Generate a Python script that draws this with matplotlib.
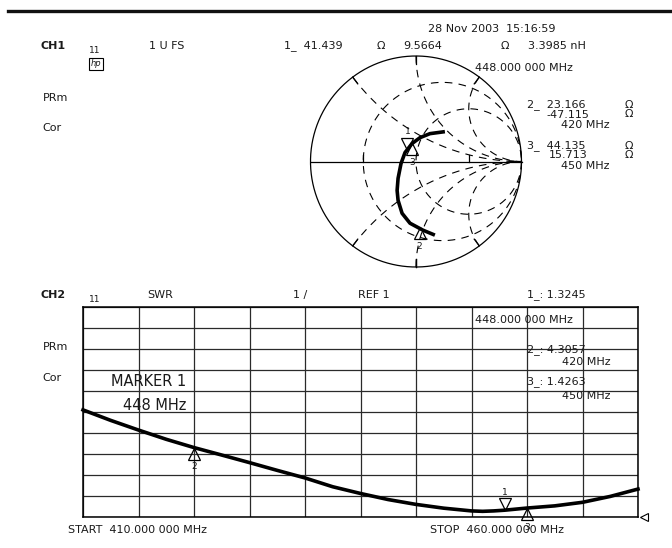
import numpy as np
import matplotlib.pyplot as plt
from matplotlib import transforms as mtransforms

plt.rcParams['lines.scale_dashes'] = False

# SWR sweep, 410 - 460 MHz
freq_mhz = [410, 412.5, 415, 417.5, 420, 422.5, 425, 427.5, 430, 432.5, 435, 437.5,
            440, 442.5, 445, 446, 447, 448, 450, 452.5, 455, 457.5, 460]
swr = [6.10, 5.60, 5.14, 4.70, 4.3057, 3.95, 3.59, 3.22, 2.86, 2.44, 2.12, 1.83,
       1.60, 1.42, 1.29, 1.27, 1.29, 1.3245, 1.4263, 1.53, 1.70, 1.98, 2.33]

# S11 trace on the Smith chart (reflection coefficient), 410 -> 460 MHz
gamma_re = [0.179, 0.066, -0.057, -0.132, -0.170, -0.179, -0.170, -0.142, -0.104,
            -0.038, 0.038, 0.132, 0.274]
gamma_im = [-0.698, -0.651, -0.585, -0.491, -0.368, -0.274, -0.160, -0.019, 0.085,
            0.170, 0.226, 0.264, 0.283]

# markers: number, frequency, R, X (ohm), SWR
mk_num = ['1', '2', '3']
mk_freq = [448, 420, 450]
mk_r = [41.439, 23.166, 44.135]
mk_x = [9.5664, -47.115, 15.713]
mk_swr = [1.3245, 4.3057, 1.4263]
mk_up = [False, True, True]   # triangle below the trace (pointing up)
Z0 = 50.0

W, H = 672, 548
fig = plt.figure(figsize=(W / 100, H / 100), dpi=100)


def put(x, y, s, size=8, ha='center', **kw):
    fig.text(x / W, 1 - y / H, s, fontsize=size, ha=ha, va='center', color='#1a1a1a', **kw)


def marker(ax, x, y, up, label):
    dy = -6 if up else 6
    tr = mtransforms.offset_copy(ax.transData, fig=fig, x=0, y=dy, units='dots')
    ax.plot([x], [y], marker='^' if up else 'v', ms=8.6, mfc='none', mec='black',
            mew=0.9, transform=tr, clip_on=False, zorder=6)
    ly = -19 if up else 18
    tr = mtransforms.offset_copy(ax.transData, fig=fig, x=0, y=ly, units='dots')
    ax.text(x, y, label, transform=tr, ha='center', va='center', fontsize=6.5,
            color='#1a1a1a', zorder=6)


fig.add_artist(plt.Line2D([8 / W, 1], [1 - 11 / H] * 2, color='#111', lw=2.4))

# ---- channel 1: Smith chart ----
cx, cy, R = 416, 161.5, 105.5
span = 1.1
axs = fig.add_axes([(cx - span * R) / W, 1 - (cy + span * R) / H, 2 * span * R / W, 2 * span * R / H])
axs.set_xlim(-span, span)
axs.set_ylim(-span, span)
axs.axis('off')

t = np.linspace(0, 2 * np.pi, 400)
axs.plot(np.cos(t), np.sin(t), color='black', lw=0.9)
axs.plot([-1, 1], [0, 0], color='black', lw=0.9)

dash = (0, (5.5, 4.5))
s = np.linspace(-np.pi / 2 + 1e-3, np.pi / 2 - 1e-3, 600)
for r in [1 / 3, 1]:
    z = r + 1j * np.tan(s)
    g = (z - 1) / (z + 1)
    axs.plot(g.real, g.imag, color='black', lw=0.8, ls=dash)
s = np.linspace(0, np.pi / 2 - 1e-3, 400)
for x in [0.5, 1, 2, -0.5, -1, -2]:
    z = np.tan(s) + 1j * x
    g = (z - 1) / (z + 1)
    axs.plot(g.real, g.imag, color='black', lw=0.8, ls=dash)
    g0 = (1j * x - 1) / (1j * x + 1)
    axs.plot([g0.real, 0.92 * g0.real], [g0.imag, 0.92 * g0.imag], color='black', lw=0.9)
for gx in [-0.5, 0.5]:
    axs.plot([gx, gx], [0, 0.06], color='black', lw=0.9)
axs.plot([0, 0], [-1, -0.92], color='black', lw=0.9)

axs.plot(gamma_re, gamma_im, color='black', lw=2.6, solid_capstyle='butt', zorder=4)
for n, r, x, up in zip(mk_num, mk_r, mk_x, mk_up):
    z = (r + 1j * x) / Z0
    g = (z - 1) / (z + 1)
    marker(axs, g.real, g.imag, up, n)

# ---- channel 2: SWR ----
axw = fig.add_axes([83 / W, 1 - 517 / H, 555 / W, 210 / H])
axw.set_xlim(410, 460)
axw.set_ylim(1, 11)
axw.set_xticks(np.arange(410, 461, 5))
axw.set_yticks(np.arange(1, 12, 1))
axw.grid(True, color='#2a2a2a', lw=0.9)
axw.tick_params(length=0, labelbottom=False, labelleft=False)
for sp in axw.spines.values():
    sp.set_linewidth(1.1)
axw.plot(freq_mhz, swr, color='black', lw=2.6, zorder=4, clip_on=False)
for n, f, v, up in zip(mk_num, mk_freq, mk_swr, mk_up):
    marker(axw, f, v, up, n)
# reference level pointer
tr = mtransforms.offset_copy(axw.transData, fig=fig, x=6, y=0, units='dots')
axw.plot([460], [1], marker='<', ms=5.5, mfc='white', mec='black', mew=0.8,
         transform=tr, clip_on=False, zorder=6)

# ---- annotation text ----
put(492, 29, '28 Nov 2003  15:16:59')

put(53, 46, 'CH1', weight='bold')
put(95, 50, '11', size=6.5)
put(167, 46, '1 U FS')
put(313, 46, '1_  41.439')
put(381, 46, 'Ω')
put(423, 46, '9.5664')
put(505, 46, 'Ω')
put(557, 46, '3.3985 nH')
put(96, 64, 'hp', size=6, style='italic',
    bbox=dict(boxstyle='square,pad=0.15', fc='white', ec='black', lw=0.8))
put(56, 98, 'PRm')
put(52, 128, 'Cor')
put(524, 68, '448.000 000 MHz')
put(556, 105, '2_  23.166')
put(629, 105, 'Ω')
put(568, 115, '-47.115')
put(629, 114, 'Ω')
put(585, 125, '420 MHz')
put(556, 146, '3_  44.135')
put(629, 146, 'Ω')
put(568, 155, '15.713')
put(629, 155, 'Ω')
put(585, 166, '450 MHz')

put(53, 295, 'CH2', weight='bold')
put(95, 299, '11', size=6.5)
put(160, 295, 'SWR')
put(300, 295, '1 /')
put(374, 295, 'REF 1')
put(556, 295, '1_: 1.3245')
put(524, 320, '448.000 000 MHz')
put(56, 347, 'PRm')
put(52, 378, 'Cor')
put(556, 350, '2_: 4.3057')
put(586, 362, '420 MHz')
put(556, 382, '3_: 1.4263')
put(586, 396, '450 MHz')
put(149, 382, 'MARKER 1', size=10.5)
put(155, 405, '448 MHz', size=10.5)
put(137, 530, 'START  410.000 000 MHz')
put(497, 530, 'STOP  460.000 000 MHz')

fig.savefig('out.png', dpi=100)
